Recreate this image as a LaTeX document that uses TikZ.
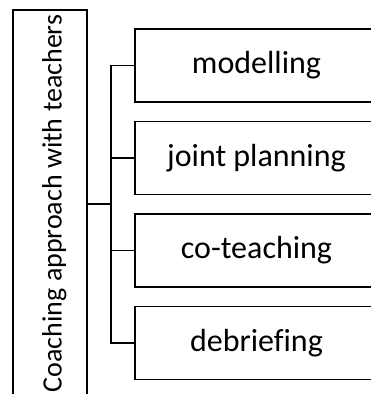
\documentclass[tikz,border=0pt]{standalone}
\usepackage{fontspec}
\setmainfont{Carlito}[Ligatures=CommonOff]
\begin{document}
\begin{tikzpicture}[x=1pt,y=1pt,
  ln/.style={line width=1.5pt, black},
  leaf/.style={draw, ln, rectangle, minimum width=243pt, minimum height=73pt, inner sep=0pt,
     font=\fontsize{32}{38}\selectfont},
  rootbox/.style={draw, ln, rectangle, rotate=90, minimum width=400pt, minimum height=74pt, inner sep=0pt},
  rootlabel/.style={rotate=90, anchor=base, inner sep=0pt, font=\fontsize{28}{34}\selectfont}]
\useasboundingbox (0,0) rectangle (371,-394);
\clip (0,0) rectangle (371,-394);
\fill[white] (0,0) rectangle (371,-394);
\node[rootbox] (root) at (50,-210) {};
\node[rootlabel] (rootlab) at (61.5,-203.5) {Coaching approach with teachers};
\node[leaf] (b1) at (256.5,-65.5) {modelling};
\node[leaf] (b2) at (256.5,-158) {joint planning};
\node[leaf] (b3) at (256.5,-250.5) {co-teaching};
\node[leaf] (b4) at (256.5,-343) {debriefing};
\coordinate (mid) at (111,-204);
\draw[ln] (root.south |- mid) -- (mid);
\draw[ln] (b1.west) -- (b1.west -| mid) -- (b4.west -| mid) -- (b4.west);
\draw[ln] (b2.west) -- (b2.west -| mid);
\draw[ln] (b3.west) -- (b3.west -| mid);
\end{tikzpicture}
\end{document}
